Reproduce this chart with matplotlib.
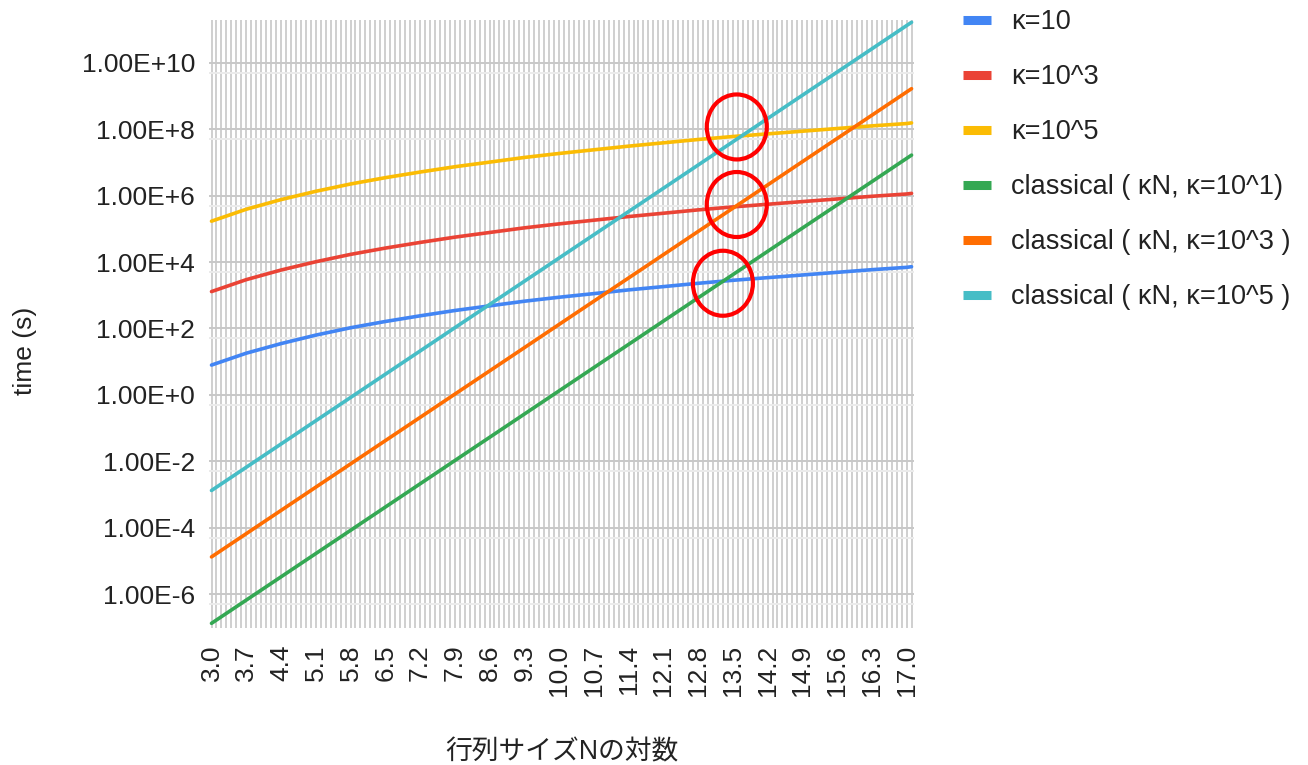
import numpy as np
import matplotlib
matplotlib.use("Agg")
import matplotlib.pyplot as plt
from matplotlib.patches import Ellipse
from matplotlib.transforms import ScaledTranslation

plt.rcParams['font.family'] = ['Liberation Sans', 'Noto Sans CJK JP', 'DejaVu Sans']

# log10 of matrix size N (labelled ticks, plus the last point 17.1)
log_n = [3.0, 3.7, 4.4, 5.1, 5.8, 6.5, 7.2, 7.9, 8.6, 9.3, 10.0,
         10.7, 11.4, 12.1, 12.8, 13.5, 14.2, 14.9, 15.6, 16.3, 17.0, 17.1]

# quantum run time (s)
kappa_10 = [7.9, 18, 35, 63, 105, 162, 240, 347, 479, 661, 871,
            1120, 1450, 1820, 2290, 2820, 3390, 4070, 4900, 5890, 6920, 7240]
kappa_1e3 = [1290, 2950, 5750, 10200, 17000, 26300, 38900, 56200, 77600, 107000, 141000,
             182000, 234000, 295000, 372000, 457000, 550000, 661000, 794000, 955000, 1.12e6, 1.17e6]
kappa_1e5 = [1.70e5, 3.89e5, 7.59e5, 1.35e6, 2.24e6, 3.47e6, 5.13e6, 7.41e6, 1.02e7, 1.41e7, 1.86e7,
             2.40e7, 3.09e7, 3.89e7, 4.90e7, 6.03e7, 7.24e7, 8.71e7, 1.05e8, 1.26e8, 1.48e8, 1.55e8]

# classical run time (s)
classical_1 = [1.32e-7, 6.61e-7, 3.31e-6, 1.66e-5, 8.32e-5, 4.17e-4, 2.09e-3, 1.05e-2, 5.25e-2, 0.263, 1.32,
               6.61, 33.1, 166, 832, 4170, 2.09e4, 1.05e5, 5.25e5, 2.63e6, 1.32e7, 1.66e7]
classical_3 = [1.32e-5, 6.61e-5, 3.31e-4, 1.66e-3, 8.32e-3, 4.17e-2, 0.209, 1.05, 5.25, 26.3, 132,
               661, 3310, 16600, 83200, 4.17e5, 2.09e6, 1.05e7, 5.25e7, 2.63e8, 1.32e9, 1.66e9]
classical_5 = [1.32e-3, 6.61e-3, 3.31e-2, 0.166, 0.832, 4.17, 20.9, 105, 525, 2630, 13200,
               66100, 3.31e5, 1.66e6, 8.32e6, 4.17e7, 2.09e8, 1.05e9, 5.25e9, 2.63e10, 1.32e11, 1.66e11]

labels = ["κ=10", "κ=10^3", "κ=10^5",
          "classical ( κN, κ=10^1)", "classical ( κN, κ=10^3 )", "classical ( κN, κ=10^5 )"]
colors = ["#4285F4", "#EA4335", "#FBBC04", "#34A853", "#FF6D01", "#46BDC6"]
series = [kappa_10, kappa_1e3, kappa_1e5, classical_1, classical_3, classical_5]

# crossing points marked with red circles
marks_x = [13.58, 13.58, 13.30]
marks_y = [1.17e8, 5.4e5, 2.3e3]

fig = plt.figure(figsize=(13.08, 7.65), dpi=100)
ax = fig.add_axes([0.1598, 0.1791, 0.539, 0.7948])

for vals, lab, col in zip(series, labels, colors):
    ax.plot(log_n, vals, color=col, lw=2.6, label=lab, solid_capstyle='round')

ax.set_yscale('log')
ax.set_xlim(2.95, 17.15)
ax.set_ylim(10 ** -7.02, 10 ** 11.29)

xt = np.round(np.arange(3.0, 17.01, 0.7), 1)
ax.set_xticks(xt)
ax.set_xticklabels([f"{v:.1f}" for v in xt], rotation=90)
ax.set_xticks(np.round(np.arange(3.0, 17.11, 0.1), 1), minor=True)

ye = list(range(-6, 11, 2))
ax.set_yticks([10.0 ** e for e in ye])
ax.set_yticklabels([f"1.00E{e:+d}" for e in ye])
ax.set_yticks([5 * 10.0 ** (e - 1) for e in range(-6, 12, 2)], minor=True)
ax.yaxis.set_minor_formatter(plt.NullFormatter())

ax.grid(True, axis='x', which='both', color='#cbcbcb', lw=1.3)
ax.grid(True, axis='y', which='major', color='#c8c8c8', lw=1.4)
ax.grid(True, axis='y', which='minor', color='#ebebeb', lw=1.4)
ax.set_axisbelow(True)
for s in ax.spines.values():
    s.set_visible(False)
ax.tick_params(which='both', length=0, labelsize=19, colors='#222222')
ax.tick_params(axis='y', pad=10)
ax.tick_params(axis='x', pad=12)

ax.set_xlabel("行列サイズNの対数", fontsize=19.3, color='#222222')
ax.xaxis.set_label_coords(0.5, -0.204)
ax.xaxis.label.set_va('center')
ax.set_ylabel("time (s)", fontsize=19, color='#222222')
ax.yaxis.set_label_coords(-0.261, 0.456)
ax.yaxis.label.set_va('center')

for mx, my in zip(marks_x, marks_y):
    tr = fig.dpi_scale_trans + ScaledTranslation(mx, my, ax.transData)
    ax.add_patch(Ellipse((0, 0), 0.60, 0.65, transform=tr, fill=False,
                         edgecolor='#ff0000', lw=3, zorder=5))

leg = ax.legend(loc='upper left', bbox_to_anchor=(952 / 1308, 1 + 1.5 / 765),
                bbox_transform=fig.transFigure, frameon=False, fontsize=19.5,
                handlelength=1.04, handletextpad=0.74, labelspacing=1.07,
                borderaxespad=0)
for h in leg.get_lines():
    h.set_linewidth(6.5)
    h.set_solid_capstyle('butt')
for t in leg.get_texts():
    t.set_color('#222222')

fig.savefig("out.png", dpi=100)
